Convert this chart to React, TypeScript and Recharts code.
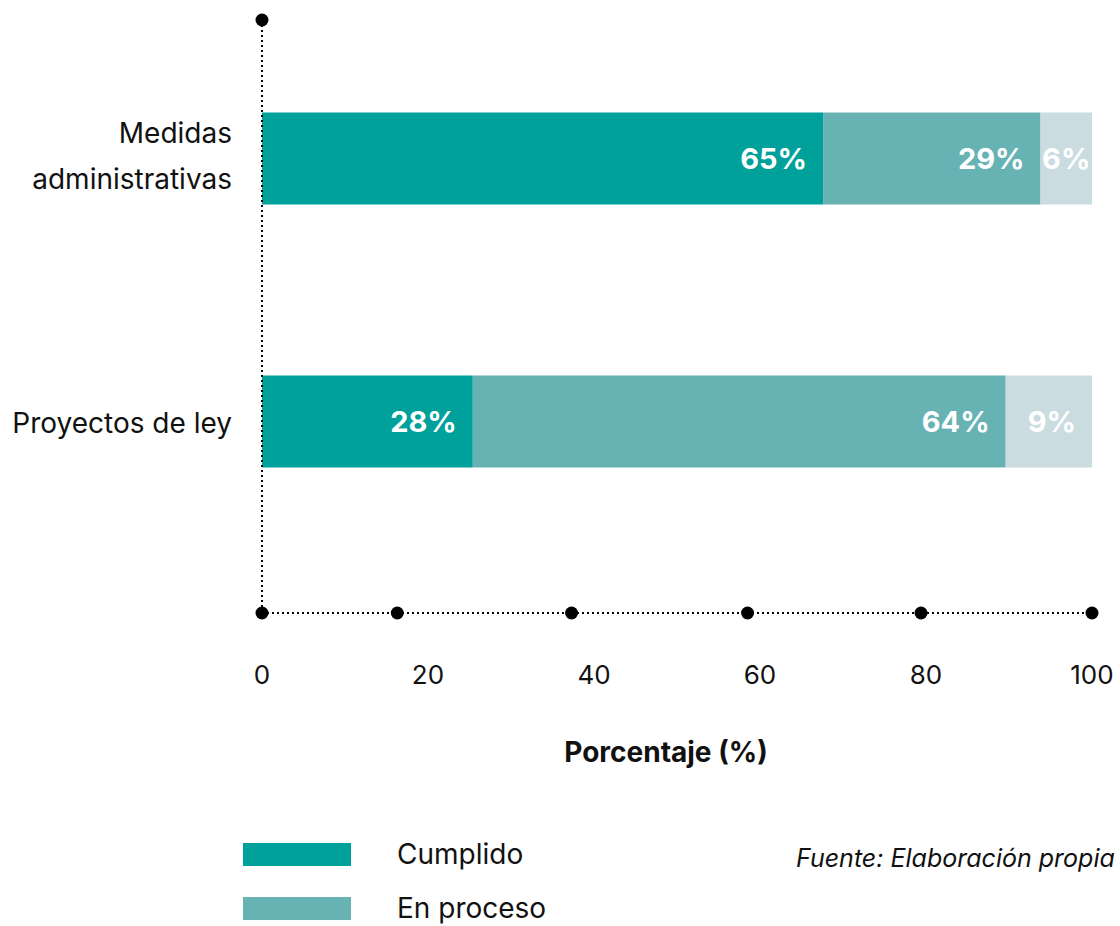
import React from 'react';
import { ComposedChart, Bar, Line, XAxis, YAxis, LabelList } from 'recharts';

// ---- data ----
const categories = ['Medidas administrativas', 'Proyectos de ley'];
const categoryLines = [['Medidas', 'administrativas'], ['Proyectos de ley']];
const cumplido = [67.6, 25.4];
const enProceso = [26.2, 64.2];
const pendiente = [6.2, 10.4];
const cumplidoLabels = ['65%', '28%'];
const enProcesoLabels = ['29%', '64%'];
const pendienteLabels = ['6%', '9%'];
const xTickLabels = [0, 20, 40, 60, 80, 100];
const xTickDots = [0, 16.3, 37.3, 58.5, 79.4, 100];
const seriesNames = ['Cumplido', 'En proceso', 'Pendiente'];
const seriesColors = ['#00A19A', '#67B3B4', '#CADCDF'];
const axisTitle = 'Porcentaje (%)';
const sourceText = 'Fuente: Elaboración propia';

const data = categories.map((c, i) => ({
  category: c,
  cumplido: cumplido[i],
  enProceso: enProceso[i],
  pendiente: pendiente[i],
  cumplidoLabel: cumplidoLabels[i],
  enProcesoLabel: enProcesoLabels[i],
  pendienteLabel: pendienteLabels[i],
}));

const FONT = 'Inter, "Noto Sans", sans-serif';
const dotted = { stroke: '#000', strokeWidth: 2, strokeDasharray: '2 3' };

const DotTick = (props: any) => <circle cx={props.x} cy={props.y} r={6.5} fill="#000" />;
const NumTick = (props: any) => (
  <text x={props.x} y={props.y} textAnchor="middle" dominantBaseline="central" fontFamily={FONT} fontSize={26} fill="#111">
    {props.payload.value}
  </text>
);
const CatTick = (props: any) => {
  const idx = categories.indexOf(props.payload.value);
  const lines = idx >= 0 ? categoryLines[idx] : [String(props.payload.value)];
  const lh = 46;
  const startY = props.y - ((lines.length - 1) * lh) / 2 + (lines.length > 1 ? -2 : 2);
  return (
    <text textAnchor="end" fontFamily={FONT} fontSize={28} fill="#111">
      {lines.map((l, i) => (
        <tspan key={i} x={props.x} y={startY + i * lh} dominantBaseline="central">
          {l}
        </tspan>
      ))}
    </text>
  );
};

const renderBarLabel = (props: any) => {
  const { x, y, width, height, value } = props;
  const fs = 29;
  const pad = 16;
  const estW = String(value).length * 0.6 * fs;
  const fitsRight = width >= estW + 2 * pad;
  const tx = fitsRight ? x + width - pad : x + width / 2;
  return (
    <text
      x={tx}
      y={y + height / 2}
      textAnchor={fitsRight ? 'end' : 'middle'}
      dominantBaseline="central"
      fill="#fff"
      fontSize={fs}
      fontWeight={700}
      fontFamily={FONT}
    >
      {value}
    </text>
  );
};

const AxisTitle = (props: any) => {
  const vb = props.viewBox;
  return (
    <text
      x={vb.x + vb.width / 2 - 11}
      y={vb.y + vb.height - 12}
      textAnchor="middle"
      fontFamily={FONT}
      fontSize={28}
      fontWeight={700}
      fill="#111"
    >
      {axisTitle}
    </text>
  );
};

export default function App() {
  const keys = ['cumplido', 'enProceso', 'pendiente'];
  return (
    <div style={{ position: 'fixed', left: 0, top: 0, width: 1120, height: 926, overflow: 'hidden', background: '#fff', fontFamily: FONT }}>
      <ComposedChart
        width={1120}
        height={800}
        data={data}
        layout="vertical"
        margin={{ top: 19, right: 28, bottom: 26, left: 0 }}
      >
        <XAxis
          xAxisId="top"
          orientation="top"
          type="number"
          domain={[0, 100]}
          allowDataOverflow
          ticks={[0]}
          height={1}
          axisLine={false}
          tickLine={false}
          tickSize={0}
          tickMargin={0}
          tick={DotTick}
          interval={0}
        />
        <XAxis
          xAxisId="dots"
          type="number"
          domain={[0, 100]}
          allowDataOverflow
          ticks={xTickDots}
          height={1}
          axisLine={dotted}
          tickLine={false}
          tickSize={0}
          tickMargin={0}
          tick={DotTick}
          interval={0}
        />
        <XAxis
          xAxisId="lbl"
          type="number"
          domain={[0, 100]}
          allowDataOverflow
          ticks={xTickLabels}
          height={160}
          axisLine={false}
          tickLine={false}
          tickSize={0}
          tickMargin={60}
          tick={NumTick}
          interval={0}
          label={<AxisTitle />}
        />
        <YAxis
          type="category"
          dataKey="category"
          width={262}
          padding={{ top: 6.5, bottom: 60.5 }}
          axisLine={dotted}
          tickLine={false}
          tickSize={0}
          tickMargin={30}
          tick={CatTick}
          interval={0}
        />
        {keys.map((k, i) => (
          <Bar
            key={k}
            xAxisId="lbl"
            dataKey={k}
            name={seriesNames[i]}
            stackId="a"
            fill={seriesColors[i]}
            barSize={92}
            isAnimationActive={false}
          >
            <LabelList dataKey={k + 'Label'} content={renderBarLabel} />
          </Bar>
        ))}
        <Line xAxisId="dots" dataKey="cumplido" stroke="none" dot={false} activeDot={false} legendType="none" isAnimationActive={false} />
        <Line xAxisId="top" dataKey="cumplido" stroke="none" dot={false} activeDot={false} legendType="none" isAnimationActive={false} />
      </ComposedChart>
      {seriesNames.slice(0, 2).map((n, i) => (
        <div key={n} style={{ position: 'absolute', left: 243, top: 843 + i * 54, height: 23, display: 'flex', alignItems: 'center' }}>
          <div style={{ width: 108, height: 23, background: seriesColors[i] }} />
          <span style={{ marginLeft: 46, fontSize: 28, color: '#111', fontFamily: FONT, whiteSpace: 'nowrap', lineHeight: '23px' }}>{n}</span>
        </div>
      ))}
      <div style={{ position: 'absolute', left: 796, top: 843, height: 30, lineHeight: '30px', fontSize: 25, fontStyle: 'italic', color: '#111', fontFamily: FONT, whiteSpace: 'nowrap' }}>
        {sourceText}
      </div>
    </div>
  );
}
